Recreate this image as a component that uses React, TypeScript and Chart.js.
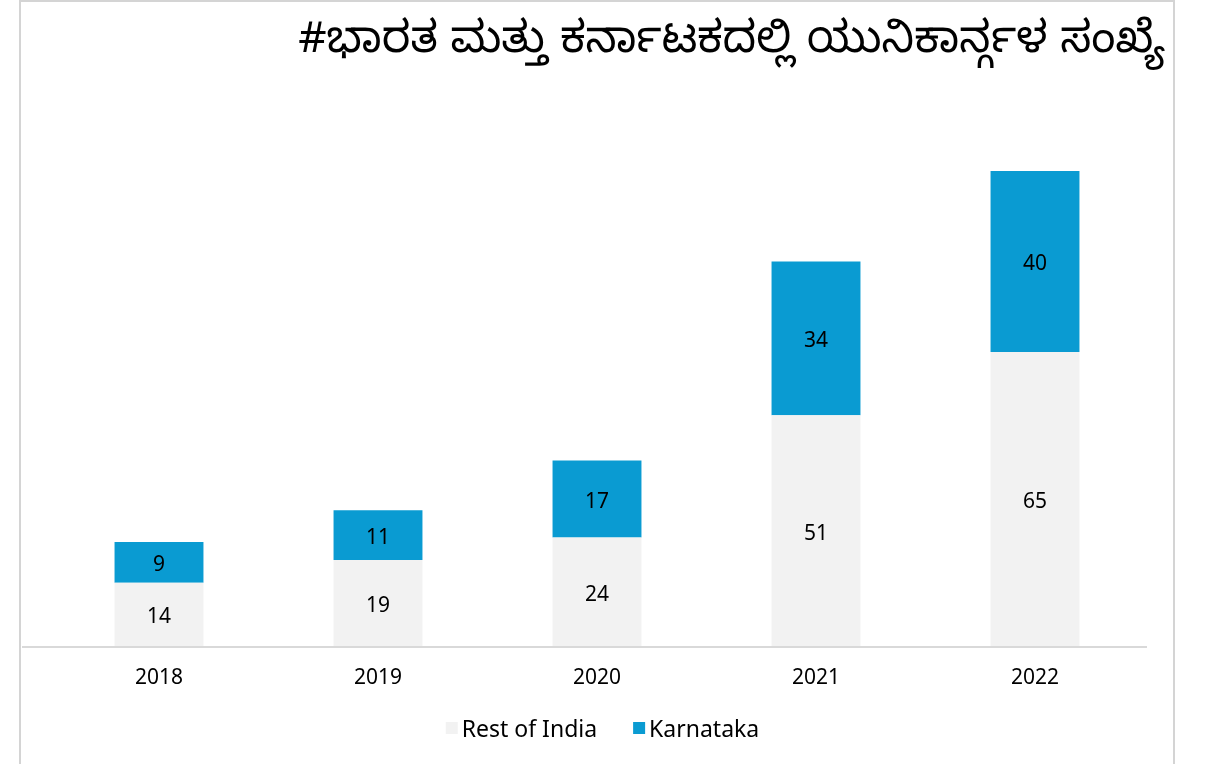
import React, { useEffect, useRef } from "react";
import { Chart, registerables } from "chart.js";

Chart.register(...registerables);

const TITLE = "#ಭಾರತ ಮತ್ತು ಕರ್ನಾಟಕದಲ್ಲಿ ಯುನಿಕಾರ್ನ್ಗಳ ಸಂಖ್ಯೆ";
const years = ["2018", "2019", "2020", "2021", "2022"];
const restOfIndia = [14, 19, 24, 51, 65];
const karnataka = [9, 11, 17, 34, 40];
const seriesNames = ["Rest of India", "Karnataka"];
const seriesColors = ["#F2F2F2", "#0A9BD2"];

const FONT = "'Noto Sans', 'DejaVu Sans', sans-serif";

const valueLabels = {
  id: "valueLabels",
  afterDatasetsDraw(chart: any) {
    const ctx = chart.ctx;
    ctx.save();
    ctx.font = `21px ${FONT}`;
    ctx.fillStyle = "#000";
    ctx.textAlign = "center";
    ctx.textBaseline = "middle";
    chart.data.datasets.forEach((ds: any, di: number) => {
      const meta = chart.getDatasetMeta(di);
      meta.data.forEach((el: any, i: number) => {
        const y = (el.y + el.base) / 2 + 3;
        ctx.fillText(String(ds.data[i]), el.x, y);
      });
    });
    ctx.restore();
  },
};

const baseline = {
  id: "baseline",
  afterDatasetsDraw(chart: any) {
    const ctx = chart.ctx;
    const { bottom } = chart.chartArea;
    ctx.save();
    ctx.strokeStyle = "#D9D9D9";
    ctx.lineWidth = 2;
    ctx.beginPath();
    ctx.moveTo(22, bottom + 1);
    ctx.lineTo(1147, bottom + 1);
    ctx.stroke();
    ctx.restore();
  },
};

const customLegend = {
  id: "customLegend",
  afterDraw(chart: any) {
    const ctx = chart.ctx;
    ctx.save();
    ctx.font = `23px ${FONT}`;
    ctx.textBaseline = "middle";
    ctx.textAlign = "left";
    const box = 12;
    const gap = 4;
    const itemGap = 36;
    const widths = chart.data.datasets.map((d: any) => ctx.measureText(d.label).width);
    const total =
      widths.reduce((a: number, w: number) => a + box + gap + w, 0) + itemGap * (widths.length - 1);
    let x = 602.5 - total / 2;
    const y = chart.chartArea.bottom + 82;
    chart.data.datasets.forEach((d: any, i: number) => {
      ctx.fillStyle = d.backgroundColor;
      ctx.fillRect(x, y - box / 2, box, box);
      x += box + gap;
      ctx.fillStyle = "#000";
      ctx.fillText(d.label, x, y + 2);
      x += widths[i] + itemGap;
    });
    ctx.restore();
  },
};

export default function App() {
  const ref = useRef<HTMLCanvasElement | null>(null);
  useEffect(() => {
    if (!ref.current) return;
    const chart = new Chart(ref.current, {
      type: "bar",
      data: {
        labels: years,
        datasets: [
          {
            label: seriesNames[0],
            data: restOfIndia,
            backgroundColor: seriesColors[0],
            barPercentage: 0.406,
            categoryPercentage: 1,
          },
          {
            label: seriesNames[1],
            data: karnataka,
            backgroundColor: seriesColors[1],
            barPercentage: 0.406,
            categoryPercentage: 1,
          },
        ],
      },
      options: {
        animation: false,
        responsive: false,
        maintainAspectRatio: false,
        layout: { padding: { left: 49.5, right: 65.5, top: 103, bottom: 68 } },
        plugins: {
          legend: { display: false },
          title: { display: false },
          tooltip: { enabled: false },
        },
        scales: {
          x: {
            stacked: true,
            grid: { display: false, drawTicks: false },
            border: { display: false },
            ticks: {
              color: "#000",
              font: { family: FONT, size: 21 },
              padding: 19,
            },
            afterFit: (s: any) => {
              s.height = 50;
            },
          },
          y: {
            stacked: true,
            display: false,
            min: 0,
            max: 120,
          },
        },
      },
      plugins: [valueLabels, baseline, customLegend],
    });
    return () => chart.destroy();
  }, []);

  return (
    <div style={{ position: "fixed", left: 0, top: 0, width: 1210, height: 764, background: "#fff", overflow: "hidden" }}>
      <div
        style={{
          position: "absolute",
          left: 19,
          top: 0,
          width: 1156,
          height: 800,
          border: "2px solid #D4D4D4",
          boxSizing: "border-box",
        }}
      />
      <canvas ref={ref} width={1210} height={764} style={{ position: "absolute", left: 0, top: 0 }} />
      <div
        style={{
          position: "absolute",
          right: 45,
          top: 16,
          fontFamily: "'Noto Sans Kannada', 'Lohit Kannada', 'Noto Sans', sans-serif",
          fontSize: 44,
          lineHeight: "60px",
          color: "#000",
          whiteSpace: "nowrap",
        }}
      >
        {TITLE}
      </div>
    </div>
  );
}
